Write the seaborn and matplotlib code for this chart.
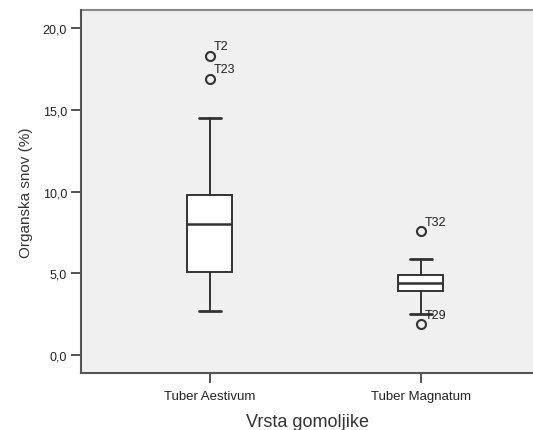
import matplotlib
matplotlib.use("Agg")
import matplotlib.pyplot as plt
import seaborn as sns

categories = ["Tuber Aestivum", "Tuber Magnatum"]
whisker_low = [2.7, 2.5]
q1 = [5.1, 3.92]
median = [8.0, 4.39]
q3 = [9.8, 4.88]
whisker_high = [14.5, 5.87]
outliers = [[18.3, 16.9], [7.58, 1.89]]
outlier_labels = [["T2", "T23"], ["T32", "T29"]]
yticks = [0, 5, 10, 15, 20]
ytick_labels = ["0,0", "5,0", "10,0", "15,0", "20,0"]

sns.set_style("white")
plt.rcParams['font.family'] = ['Liberation Sans', 'DejaVu Sans']

fig = plt.figure(figsize=(5.33, 4.31), dpi=100)
ax = fig.add_axes([81/533, 1 - 374/431, (533 - 81)/533, (374 - 11)/431])
ax.set_facecolor("#F0F0F0")

stats = []
for i, c in enumerate(categories):
    stats.append(dict(label=c, whislo=whisker_low[i], q1=q1[i], med=median[i],
                      q3=q3[i], whishi=whisker_high[i], fliers=outliers[i]))

lc = "#333333"
ax.bxp(stats, positions=[0, 1], widths=0.213, patch_artist=True,
       boxprops=dict(facecolor="white", edgecolor=lc, linewidth=1.4),
       medianprops=dict(color=lc, linewidth=1.8),
       whiskerprops=dict(color=lc, linewidth=1.4),
       capprops=dict(color=lc, linewidth=2.0),
       capwidths=0.104,
       flierprops=dict(marker="o", markersize=6.5, markerfacecolor="none",
                       markeredgecolor=lc, markeredgewidth=1.5))

for i in range(len(categories)):
    for v, lab in zip(outliers[i], outlier_labels[i]):
        ax.annotate(lab, (i, v), xytext=(3, 2.5), textcoords="offset points",
                    fontsize=9, color="#222222", ha="left", va="bottom")

ax.set_xlim(-0.611, 1.531)
ax.set_ylim(-1.1, 21.1)
ax.set_yticks(yticks)
ax.set_yticklabels(ytick_labels, fontsize=9, color="#222222")
ax.set_xticks([0, 1])
ax.set_xticklabels(categories, fontsize=9.5, color="#222222")
ax.tick_params(axis="both", direction="out", length=7, width=1.3, color="#444444",
               left=True, bottom=True, pad=3)
ax.tick_params(axis="x", pad=5)

for s in ["top", "right"]:
    ax.spines[s].set_visible(False)
for s in ["left", "bottom"]:
    ax.spines[s].set_color("#555555")
    ax.spines[s].set_linewidth(1.5)
ax.axhline(21.1, color="#888888", linewidth=1.5, clip_on=False)

ax.set_ylabel("Organska snov (%)", fontsize=11, color="#333333", labelpad=7)
ax.set_xlabel("Vrsta gomoljike", fontsize=13, color="#333333", labelpad=8)

fig.savefig("out.png", dpi=100)
